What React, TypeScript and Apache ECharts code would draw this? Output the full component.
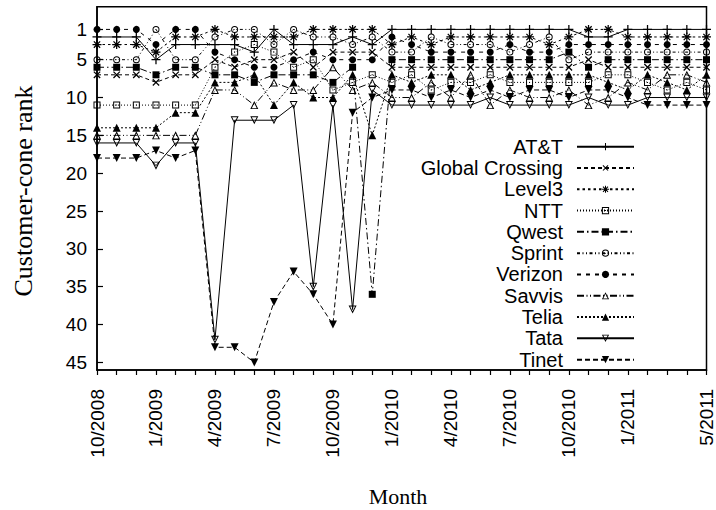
import React, { useEffect, useRef } from "react";
import * as echarts from "echarts";

// ---- axis labels ----
const monthLabels = ["10/2008", "1/2009", "4/2009", "7/2009", "10/2009", "1/2010", "4/2010", "7/2010", "10/2010", "1/2011", "5/2011"];
const monthLabelIndex = [0, 3, 6, 9, 12, 15, 18, 21, 24, 27, 31];
const monthTickIndex = Array.from({ length: 32 }, (_, i) => i);
const rankTicks = [1, 5, 10, 15, 20, 25, 30, 35, 40, 45];

// ---- series (rank per month, 10/2008 .. 5/2011) ----
const seriesNames = ["AT&T", "Global Crossing", "Level3", "NTT", "Qwest", "Sprint", "Verizon", "Savvis", "Telia", "Tata", "Tinet"];
const att = [2, 2, 2, 5, 3, 3, 3, 3, 4, 1, 3, 3, 3, 2, 3, 1, 1, 1, 1, 1, 1, 1, 1, 1, 1, 2, 2, 1, 1, 1, 1, 1];
const globalCrossing = [7, 7, 7, 8, 7, 7, 5, 6, 5, 5, 4, 6, 4, 4, 4, 6, 6, 6, 6, 6, 6, 6, 6, 6, 6, 5, 6, 6, 6, 6, 6, 6];
const level3 = [3, 3, 3, 4, 2, 2, 1, 2, 2, 2, 2, 1, 1, 1, 1, 3, 2, 3, 2, 2, 2, 2, 2, 3, 2, 1, 1, 2, 2, 2, 2, 2];
const ntt = [11, 11, 11, 11, 11, 11, 6, 4, 3, 4, 6, 5, 9, 8, 7, 8, 7, 9, 8, 8, 7, 8, 8, 8, 8, 8, 7, 7, 8, 9, 8, 9];
const qwest = [6, 6, 6, 7, 6, 6, 7, 7, 8, 7, 7, 7, 8, 6, 36, 5, 5, 5, 5, 5, 5, 5, 5, 5, 4, 6, 5, 5, 5, 5, 5, 5];
const sprint = [5, 5, 5, 1, 5, 5, 2, 1, 1, 3, 1, 2, 2, 3, 2, 4, 4, 2, 3, 3, 3, 4, 3, 2, 5, 4, 4, 4, 4, 4, 4, 4];
const verizon = [1, 1, 1, 3, 1, 1, 4, 5, 6, 6, 5, 4, 5, 5, 5, 2, 3, 4, 4, 4, 4, 3, 4, 4, 3, 3, 3, 3, 3, 3, 3, 3];
const savvis = [15, 15, 15, 15, 15, 15, 9, 9, 11, 8, 9, 9, 6, 9, 8, 10, 10, 8, 10, 7, 11, 9, 10, 10, 9, 11, 10, 8, 9, 7, 7, 8];
const telia = [14, 14, 14, 14, 12, 12, 8, 8, 7, 11, 8, 10, 10, 7, 15, 7, 8, 7, 7, 9, 8, 7, 7, 7, 7, 7, 8, 9, 7, 8, 9, 7];
const tata = [16, 16, 16, 19, 16, 16, 42, 13, 13, 13, 11, 35, 11, 38, 9, 11, 11, 11, 11, 11, 10, 11, 11, 11, 11, 10, 11, 11, 10, 10, 10, 10];
const tinet = [18, 18, 18, 17, 18, 17, 43, 43, 45, 37, 33, 36, 40, 12, 10, 9, 9, 10, 9, 10, 9, 10, 9, 9, 10, 9, 9, 10, 11, 11, 11, 11];
const seriesValues = [att, globalCrossing, level3, ntt, qwest, sprint, verizon, savvis, telia, tata, tinet];

// ---- marker shapes (gnuplot style) ----
const PLUS = "path://M4.3,0H5.7V4.3H10V5.7H5.7V10H4.3V5.7H0V4.3H4.3Z";
const STAR = "path://M4.3,0H5.7V4.3H10V5.7H5.7V10H4.3V5.7H0V4.3H4.3Z M1,2L2,1L9,8L8,9Z M8,1L9,2L2,9L1,8Z";
const OPEN_SQUARE = "path://M0,0H10V10H0Z M1.4,1.4V8.6H8.6V1.4Z M4.3,4.3H5.7V5.7H4.3Z";
const OPEN_CIRCLE = "path://M5,0A5,5,0,1,1,5,10A5,5,0,1,1,5,0Z M5,1.4A3.6,3.6,0,1,0,5,8.6A3.6,3.6,0,1,0,5,1.4Z M5,4.3A0.7,0.7,0,1,1,5,5.7A0.7,0.7,0,1,1,5,4.3Z";
const OPEN_TRIANGLE = "path://M5,0L10,10H0Z M5,2.7L1.94,8.8H8.06Z";

const styles: { symbol: string; size: number; rotate: number; dash: any }[] = [
  { symbol: PLUS, size: 9, rotate: 0, dash: "solid" },
  { symbol: PLUS, size: 9, rotate: 45, dash: [4, 3] },
  { symbol: STAR, size: 9, rotate: 0, dash: [2.5, 3] },
  { symbol: OPEN_SQUARE, size: 7, rotate: 0, dash: [1, 2] },
  { symbol: "rect", size: 7, rotate: 0, dash: [7, 3, 1.5, 3] },
  { symbol: OPEN_CIRCLE, size: 7, rotate: 0, dash: [3, 2.5, 1, 2.5, 1, 2.5] },
  { symbol: "circle", size: 7, rotate: 0, dash: [4, 5] },
  { symbol: OPEN_TRIANGLE, size: 8, rotate: 0, dash: [7, 2.5, 1, 2.5, 1, 2.5] },
  { symbol: "triangle", size: 8, rotate: 0, dash: [2, 2] },
  { symbol: OPEN_TRIANGLE, size: 8, rotate: 180, dash: "solid" },
  { symbol: "triangle", size: 8, rotate: 180, dash: [5, 3] },
];

const SANS = "'Liberation Sans', Arial, sans-serif";
const SERIF = "'Liberation Serif', 'Times New Roman', serif";

export default function App() {
  const ref = useRef<HTMLDivElement>(null);
  useEffect(() => {
    document.body.style.margin = "0";
    if (!ref.current) return;
    const chart = echarts.init(ref.current, null, { renderer: "svg" });
    const series = seriesNames.map((name, i) => ({
      name,
      type: "line",
      data: seriesValues[i].map((v, m) => [m, v]),
      symbol: styles[i].symbol,
      symbolSize: styles[i].size,
      symbolRotate: styles[i].rotate,
      showAllSymbol: true,
      lineStyle: { color: "#000", width: 1, type: styles[i].dash },
      itemStyle: { color: "#000" },
      emphasis: { disabled: true },
      z: 2 + i,
    }));
    chart.setOption({
      animation: false,
      backgroundColor: "#fff",
      grid: { left: 97, right: 8.5, top: 6.7, bottom: 140, show: true, borderColor: "#000", borderWidth: 1.5, backgroundColor: "transparent" },
      xAxis: {
        type: "value",
        min: 0,
        max: 31,
        axisLine: { show: true, onZero: false, lineStyle: { color: "#000", width: 1.5 } },
        axisTick: { show: true, inside: false, length: 5, customValues: monthTickIndex, lineStyle: { color: "#000", width: 1.2 } },
        axisLabel: {
          customValues: monthLabelIndex,
          formatter: (v: number) => {
            const k = monthLabelIndex.indexOf(Math.round(v));
            return k >= 0 ? monthLabels[k] : "";
          },
          rotate: 90,
          margin: 19,
          fontSize: 19,
          fontFamily: SANS,
          color: "#000",
        },
        splitLine: { show: false },
      },
      yAxis: {
        type: "value",
        min: -2,
        max: 46,
        inverse: true,
        axisLine: { show: true, onZero: false, lineStyle: { color: "#000", width: 1.5 } },
        axisTick: { show: true, inside: true, length: 6, customValues: rankTicks, lineStyle: { color: "#000", width: 1.2 } },
        axisLabel: { customValues: rankTicks, margin: 10, fontSize: 19, fontFamily: SANS, color: "#000" },
        splitLine: { show: false },
      },
      legend: {
        orient: "vertical",
        align: "right",
        right: 81,
        top: 136,
        padding: 0,
        itemGap: 0,
        itemWidth: 57,
        itemHeight: 9,
        selectedMode: false,
        textStyle: { fontSize: 20, fontFamily: SANS, color: "#000", lineHeight: 21.3, padding: [0, 9, 0, 0] },
        data: seriesNames,
      },
      graphic: [
        {
          type: "text",
          x: 23,
          y: 191,
          rotation: Math.PI / 2,
          style: { text: "Customer-cone rank", fontSize: 26, fontFamily: SERIF, fill: "#000", align: "center", verticalAlign: "middle" },
        },
        {
          type: "text",
          x: 398,
          y: 496,
          style: { text: "Month", fontSize: 22, fontFamily: SERIF, fill: "#000", align: "center", verticalAlign: "middle" },
        },
      ],
      series,
    });
    return () => chart.dispose();
  }, []);
  return <div ref={ref} style={{ position: "fixed", left: 0, top: 0, width: 716, height: 510 }} />;
}
